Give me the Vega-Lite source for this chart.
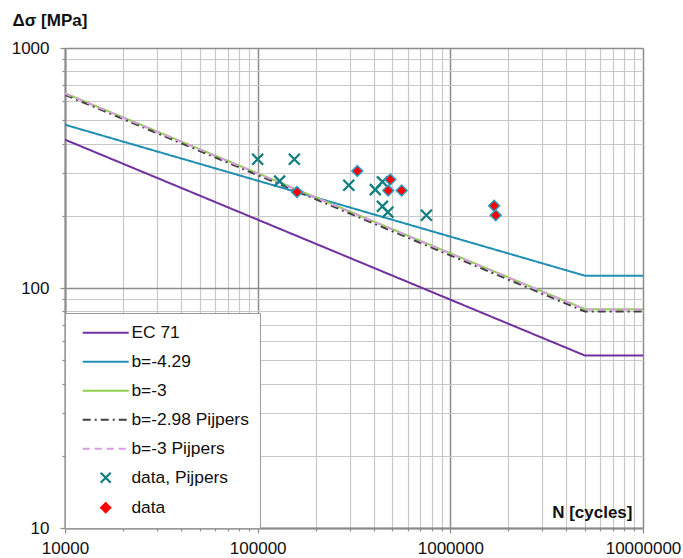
{
  "$schema": "https://vega.github.io/schema/vega-lite/v6.json",
  "width": 578,
  "height": 480,
  "autosize": {"type": "none"},
  "padding": {"left": 65, "top": 48, "right": 40, "bottom": 30},
  "background": "white",
  "config": {
    "font": "Liberation Sans",
    "view": {"stroke": null}
  },
  "datasets": {
    "lines": [
      {"series": "EC 71", "N": 10000, "S": 415},
      {"series": "EC 71", "N": 5000000, "S": 52.3},
      {"series": "EC 71", "N": 10000000, "S": 52.3},
      {"series": "b=-4.29", "N": 10000, "S": 479},
      {"series": "b=-4.29", "N": 5000000, "S": 112.5},
      {"series": "b=-4.29", "N": 10000000, "S": 112.5},
      {"series": "b=-3", "N": 10000, "S": 648},
      {"series": "b=-3", "N": 5000000, "S": 81.6},
      {"series": "b=-3", "N": 10000000, "S": 81.6},
      {"series": "b=-2.98 Pijpers", "N": 10000, "S": 638},
      {"series": "b=-2.98 Pijpers", "N": 5000000, "S": 79.8},
      {"series": "b=-2.98 Pijpers", "N": 10000000, "S": 79.8},
      {"series": "b=-3 Pijpers", "N": 10000, "S": 646},
      {"series": "b=-3 Pijpers", "N": 5000000, "S": 81.4},
      {"series": "b=-3 Pijpers", "N": 10000000, "S": 81.4}
    ],
    "points": [
      {"series": "data, Pijpers", "N": 100000, "S": 344},
      {"series": "data, Pijpers", "N": 155000, "S": 344},
      {"series": "data, Pijpers", "N": 130000, "S": 279},
      {"series": "data, Pijpers", "N": 297000, "S": 268},
      {"series": "data, Pijpers", "N": 408000, "S": 257},
      {"series": "data, Pijpers", "N": 444000, "S": 277},
      {"series": "data, Pijpers", "N": 444000, "S": 219},
      {"series": "data, Pijpers", "N": 474000, "S": 207},
      {"series": "data, Pijpers", "N": 751000, "S": 201},
      {"series": "data", "N": 160000, "S": 251},
      {"series": "data", "N": 329000, "S": 307},
      {"series": "data", "N": 488000, "S": 283},
      {"series": "data", "N": 476000, "S": 255},
      {"series": "data", "N": 559000, "S": 255},
      {"series": "data", "N": 1688000, "S": 220},
      {"series": "data", "N": 1720000, "S": 201}
    ]
  },
  "layer": [
    {
      "data": {"name": "lines"},
      "mark": {"type": "line", "strokeWidth": 2, "clip": true},
      "encoding": {
        "x": {
          "field": "N", "type": "quantitative",
          "scale": {"type": "log", "domain": [10000, 10000000]},
          "axis": {
            "values": [10000,20000,30000,40000,50000,60000,70000,80000,90000,100000,200000,300000,400000,500000,600000,700000,800000,900000,1000000,2000000,3000000,4000000,5000000,6000000,7000000,8000000,9000000,10000000],
            "format": "d",
            "labelExpr": "indexof([10000,100000,1000000,10000000], datum.value) >= 0 ? datum.label : ''",
            "labelOverlap": false,
            "labelFlush": false,
            "labelFontSize": 17,
            "labelColor": "#111111",
            "labelPadding": 7,
            "grid": true,
            "gridColor": {"condition": {"test": "indexof([10000,100000,1000000,10000000], datum.value) >= 0", "value": "#8c8c8c"}, "value": "#c8c8c8"},
            "gridWidth": {"condition": {"test": "indexof([10000,100000,1000000,10000000], datum.value) >= 0", "value": 1.5}, "value": 1.2},
            "domainColor": "#8c8c8c",
            "domainWidth": 2,
            "tickColor": "#8c8c8c",
            "tickWidth": 1.2,
            "tickSize": {"condition": {"test": "indexof([10000,100000,1000000,10000000], datum.value) >= 0", "value": 5}, "value": 3},
            "title": "N [cycles]",
            "titleFontSize": 17,
            "titleFontWeight": "bold",
            "titleColor": "#111111",
            "titleAlign": "right",
            "titleBaseline": "alphabetic",
            "titleAnchor": "start",
            "titleX": 567,
            "titleY": -11
          }
        },
        "y": {
          "field": "S", "type": "quantitative",
          "scale": {"type": "log", "domain": [10, 1000]},
          "axis": {
            "values": [10,20,30,40,50,60,70,80,90,100,200,300,400,500,600,700,800,900,1000],
            "format": "d",
            "labelExpr": "indexof([10,100,1000], datum.value) >= 0 ? datum.label : ''",
            "labelOverlap": false,
            "labelFlush": false,
            "labelFontSize": 17,
            "labelColor": "#111111",
            "labelPadding": 11,
            "grid": true,
            "gridColor": {"condition": {"test": "indexof([10,100,1000], datum.value) >= 0", "value": "#8c8c8c"}, "value": "#c8c8c8"},
            "gridWidth": {"condition": {"test": "indexof([10,100,1000], datum.value) >= 0", "value": 1.5}, "value": 1.2},
            "domainColor": "#8c8c8c",
            "domainWidth": 2,
            "tickColor": "#8c8c8c",
            "tickWidth": 1.2,
            "tickSize": {"condition": {"test": "indexof([10,100,1000], datum.value) >= 0", "value": 5}, "value": 3},
            "title": "Δσ [MPa]",
            "titleFontSize": 17,
            "titleFontWeight": "bold",
            "titleColor": "#111111",
            "titleAngle": 0,
            "titleAlign": "left",
            "titleBaseline": "alphabetic",
            "titleAnchor": "start",
            "titleX": -53,
            "titleY": -23
          }
        },
        "color": {
          "field": "series", "type": "nominal",
          "scale": {
            "domain": ["EC 71", "b=-4.29", "b=-3", "b=-2.98 Pijpers", "b=-3 Pijpers", "data, Pijpers", "data"],
            "range": ["#7030a0", "#1f8fb3", "#92d050", "#404040", "#d99ae6", "#117f80", "#ff0000"]
          },
          "legend": {
            "title": null,
            "orient": "bottom-left",
            "offset": 0,
            "padding": 11,
            "fillColor": "white",
            "strokeColor": "#9a9a9a",
            "labelFontSize": 17.4,
            "labelColor": "#111111",
            "labelLimit": 300,
            "rowPadding": 10,
            "symbolOffset": 21,
            "labelOffset": 17,
            "encode": {
              "symbols": {
                "update": {
                  "shape": {"signal": "datum.value === 'data, Pijpers' ? 'M-1,-1L1,1M-1,1L1,-1' : datum.value === 'data' ? 'diamond' : 'M-4.6,0H4.6'"},
                  "size": {"value": 100},
                  "fill": {"signal": "datum.value === 'data' ? '#ff0000' : 'transparent'"},
                  "stroke": {"signal": "datum.value === 'data' ? '#2b9fc4' : scale('color', datum.value)"},
                  "strokeWidth": {"signal": "datum.value === 'data' ? 1.5 : datum.value === 'data, Pijpers' ? 2.2 : 2"},
                  "strokeDash": {"signal": "datum.value === 'b=-2.98 Pijpers' ? [8,4,2,4] : datum.value === 'b=-3 Pijpers' ? [7,5] : [1,0]"},
                  "opacity": {"value": 1}
                }
              }
            }
          }
        },
        "strokeDash": {
          "field": "series", "type": "nominal",
          "scale": {
            "domain": ["EC 71", "b=-4.29", "b=-3", "b=-2.98 Pijpers", "b=-3 Pijpers"],
            "range": [[1, 0], [1, 0], [1, 0], [8, 4, 2, 4], [7, 5]]
          },
          "legend": null
        }
      }
    },
    {
      "data": {"name": "points"},
      "transform": [{"filter": "datum.series === 'data, Pijpers'"}],
      "mark": {"type": "point", "shape": "M-1,-1L1,1M-1,1L1,-1", "filled": false, "strokeWidth": 2.3, "size": 120, "opacity": 1},
      "encoding": {
        "x": {"field": "N", "type": "quantitative"},
        "y": {"field": "S", "type": "quantitative"},
        "color": {"field": "series", "type": "nominal"}
      }
    },
    {
      "data": {"name": "points"},
      "transform": [{"filter": "datum.series === 'data'"}],
      "mark": {"type": "point", "shape": "diamond", "filled": true, "stroke": "#2b9fc4", "strokeWidth": 1.5, "size": 120, "opacity": 1},
      "encoding": {
        "x": {"field": "N", "type": "quantitative"},
        "y": {"field": "S", "type": "quantitative"},
        "color": {"field": "series", "type": "nominal"}
      }
    }
  ]
}
